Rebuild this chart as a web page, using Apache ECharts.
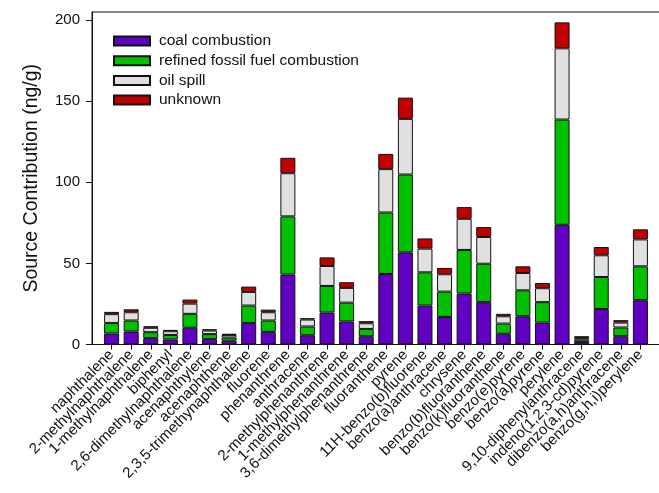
<!DOCTYPE html>
<html>
<head>
<meta charset="utf-8">
<script src="https://cdn.jsdelivr.net/npm/echarts@6/dist/echarts.min.js"></script>
<style>
html,body{margin:0;padding:0;background:#fff;}
#chart{width:659px;height:493px;}
</style>
</head>
<body>
<div id="chart"></div>
<script>
var categories = ["naphthalene","2-methylnaphthalene","1-methylnaphthalene","biphenyl","2,6-dimethylnaphthalene","acenaphthylene","acenaphthene","2,3,5-trimethynaphthalene","fluorene","phenanthrene","anthracene","2-methylphenanthrene","1-methylphenanthrene","3,6-dimethylphenanthrene","fluoranthene","pyrene","11H-benzo(b)fluorene","benzo(a)anthracene","chrysene","benzo(b)fluoranthene","benzo(k)fluoranthene","benzo(e)pyrene","benzo(a)pyrene","perylene","9,10-diphenylanthracene","indeno(1,2,3-cd)pyrene","dibenzo(a,h)anthracene","benzo(g,h,i)perylene"];
var coal    = [6.8, 8.0, 3.9, 3.1, 10.3, 3.3, 2.3, 13.3, 7.8, 43.1, 5.7, 19.7, 14.2, 5.1, 43.5, 56.8, 24.0, 17.0, 31.4, 26.1, 6.6, 17.4, 13.5, 73.8, 1.6, 21.9, 5.1, 27.3];
var refined = [6.5, 6.8, 3.7, 2.8, 8.6, 3.1, 2.0, 10.7, 7.0, 35.9, 5.4, 16.4, 11.6, 4.5, 37.9, 48.0, 20.5, 15.6, 26.9, 23.7, 6.3, 16.0, 12.6, 64.9, 1.5, 19.7, 5.4, 20.9];
var oil     = [5.4, 5.1, 2.7, 2.3, 6.3, 2.2, 1.6, 8.4, 5.1, 26.6, 4.3, 12.3, 9.1, 3.5, 26.7, 34.3, 14.6, 10.7, 19.2, 16.5, 4.5, 10.7, 8.6, 43.9, 1.0, 13.4, 3.0, 16.6];
var unknown = [1.4, 1.8, 1.0, 0.8, 2.5, 0.8, 0.7, 3.3, 1.6, 9.5, 0.8, 5.3, 3.5, 1.3, 9.4, 13.1, 6.3, 3.9, 7.2, 6.1, 1.5, 4.1, 3.2, 16.0, 1.0, 5.1, 1.5, 6.2];
var seriesNames = ["coal combustion","refined fossil fuel combustion","oil spill","unknown"];
var yTicks = [0, 50, 100, 150, 200];

var colors = ['#6000c0', '#00c000', '#e0e0e0', '#c00000'];
var FONT = "'Liberation Sans', Arial, sans-serif";

// one empty slot on each side of the axis (the plot leaves a band of space at both ends)
var axisCats = [''].concat(categories, [' ']);
function padded(arr){ return ['-'].concat(arr, ['-']); }

var allData = [coal, refined, oil, unknown];
var series = seriesNames.map(function(name, k){
  return {
    name: name,
    type: 'bar',
    stack: 'total',
    barWidth: 15,
    data: padded(allData[k]),
    itemStyle: { color: colors[k], borderColor: '#111', borderWidth: 1 },
    emphasis: { disabled: true }
  };
});

function isReal(idx){ return idx > 0 && idx <= categories.length; }

var chart = echarts.init(document.getElementById('chart'), null, { renderer: 'canvas' });
chart.setOption({
  animation: false,
  backgroundColor: '#fff',
  textStyle: { fontFamily: FONT },
  grid: { left: 92, right: -1, top: 12, bottom: 148.5, outerBoundsMode: 'none', containLabel: false,
          show: true, borderColor: '#111', borderWidth: 1, backgroundColor: 'transparent' },
  legend: {
    orient: 'vertical', left: 113, top: 33, padding: 0,
    itemWidth: 36, itemHeight: 9, itemGap: 3.7,
    icon: 'rect',
    data: seriesNames,
    textStyle: { fontFamily: FONT, fontSize: 15.5, color: '#111', padding: [0, 0, 0, 4] }
  },
  xAxis: {
    type: 'category', data: axisCats, boundaryGap: false,
    splitLine: { show: false },
    axisLine: { show: true, lineStyle: { color: '#111', width: 1 } },
    axisTick: { show: true, length: 5, lineStyle: { color: '#111' }, interval: function(i){ return isReal(i); } },
    axisLabel: {
      interval: 0, rotate: 45, margin: 8,
      hideOverlap: false,
      fontFamily: FONT, fontSize: 15, color: '#111'
    }
  },
  yAxis: {
    type: 'value', min: 0, max: 205,
    name: 'Source Contribution (ng/g)', nameLocation: 'middle', nameGap: 50,
    nameTextStyle: { fontFamily: FONT, fontSize: 19.5, color: '#111' },
    splitLine: { show: false },
    axisLine: { show: true, lineStyle: { color: '#111', width: 1 } },
    axisTick: { show: true, customValues: yTicks, length: 6, lineStyle: { color: '#111' } },
    axisLabel: { customValues: yTicks, margin: 12, fontFamily: FONT, fontSize: 15, color: '#111' }
  },
  series: series
});
</script>
</body>
</html>
